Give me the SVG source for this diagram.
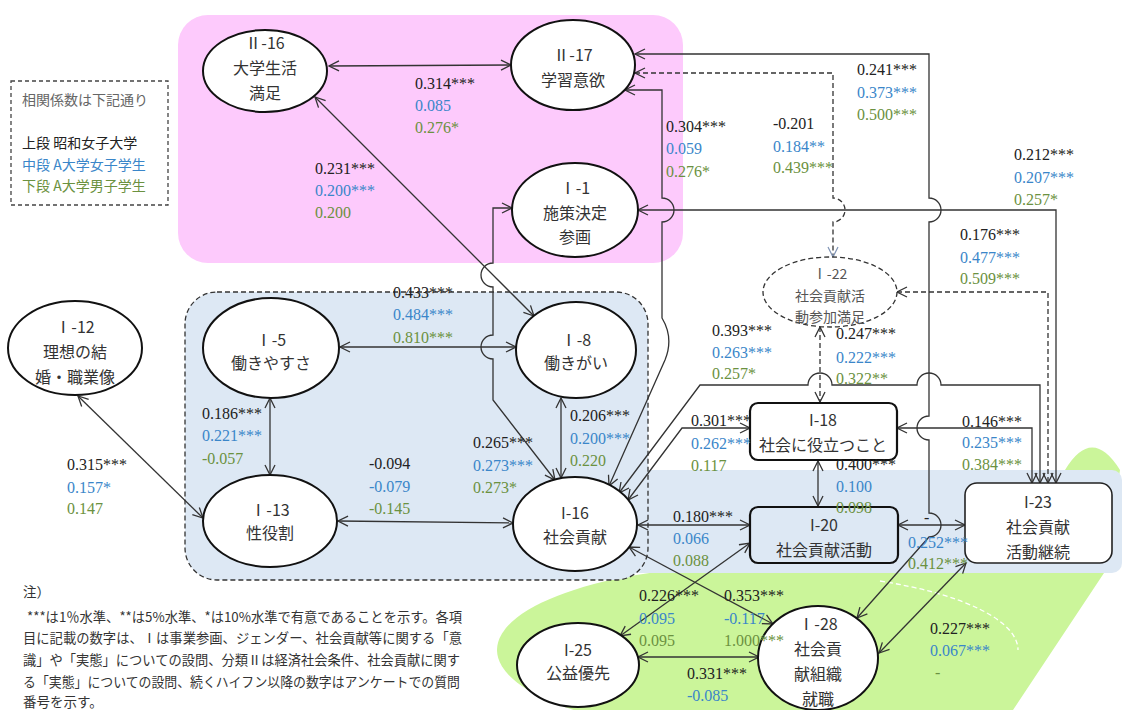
<svg xmlns="http://www.w3.org/2000/svg" width="1127" height="710" viewBox="0 0 1127 710">
<style>
.nt{font-family:"Noto Sans CJK JP","Noto Sans",sans-serif;font-size:16px;fill:#333;text-anchor:middle}
.nts{font-family:"Noto Sans CJK JP","Noto Sans",sans-serif;font-size:14px;fill:#555;text-anchor:middle}
.lg{font-family:"Noto Sans CJK JP","Noto Sans",sans-serif;font-size:14px}
.note{font-family:"Noto Sans CJK JP","Noto Sans",sans-serif;font-size:13.5px;fill:#333}
.lb{font-family:"Liberation Serif","Noto Sans CJK JP",serif;font-size:16px}
.k{fill:#222}.b{fill:#3a86c9}.g{fill:#6b9140}
.cn{fill:none;stroke:#333;stroke-width:1.3}
.ds{stroke-dasharray:5,3}
.el{fill:#fff;stroke:#111;stroke-width:2}
</style>
<defs>
<marker id="a" viewBox="0 0 12 12" refX="11" refY="6" markerWidth="12" markerHeight="12" markerUnits="userSpaceOnUse" orient="auto-start-reverse">
<path d="M1,1 L11,6 L1,11" fill="none" stroke="#333" stroke-width="1.3"/>
</marker>
<marker id="ag" viewBox="0 0 12 12" refX="11" refY="6" markerWidth="12" markerHeight="12" markerUnits="userSpaceOnUse" orient="auto-start-reverse">
<path d="M1,1 L11,6 L1,11" fill="none" stroke="#7f93b5" stroke-width="1.2"/>
</marker>
</defs>

<g id="backgrounds">
<rect x="178" y="15" width="505" height="248" rx="30" fill="#fdcafc"/>
<ellipse cx="760" cy="650" rx="263" ry="85" fill="#cbf59a"/>
<path d="M860,572 L1065,470 Q1092,425 1120,470 L1104,573 L1013,710 L760,710 Z" fill="#cbf59a"/>
<path d="M880,581 A258,78 0 0 1 1018,650" fill="none" stroke="#fff" stroke-width="1.3" stroke-dasharray="5,3"/>
<rect x="630" y="470" width="492" height="103" rx="10" fill="#dde8f4"/>
<rect x="185" y="292" width="463" height="288" rx="32" fill="#dde8f4" stroke="#333" stroke-width="1.3" stroke-dasharray="5,3"/>
</g>

<g id="legend">
<rect x="11" y="81" width="157" height="124" fill="none" stroke="#444" stroke-width="1.3" stroke-dasharray="4,3"/>
<text class="lg" x="22" y="105" fill="#666" font-size="13.5">相関係数は下記通り</text>
<text class="lg" x="22" y="148" fill="#222">上段 昭和女子大学</text>
<text class="lg" x="22" y="170" fill="#3a86c9">中段 A大学女子学生</text>
<text class="lg" x="22" y="191" fill="#6b9140">下段 A大学男子学生</text>
</g>

<g id="note">
<text class="note" x="23" y="597">注）</text>
<text class="note" x="27" y="622" textLength="435" lengthAdjust="spacingAndGlyphs">***は1％水準、**は5%水準、*は10%水準で有意であることを示す。各項</text>
<text class="note" x="23" y="643" textLength="439" lengthAdjust="spacingAndGlyphs">目に記載の数字は、Ⅰは事業参画、ジェンダー、社会貢献等に関する「意</text>
<text class="note" x="23" y="665" textLength="437" lengthAdjust="spacingAndGlyphs">識」や「実態」についての設問、分類Ⅱは経済社会条件、社会貢献に関す</text>
<text class="note" x="23" y="687" textLength="437" lengthAdjust="spacingAndGlyphs">る「実態」についての設問、続くハイフン以降の数字はアンケートでの質問</text>
<text class="note" x="23" y="707">番号を示す。</text>
</g>

<g id="connectors">
<path class="cn" d="M329,66 L511,65" marker-start="url(#a)" marker-end="url(#a)"/>
<path class="cn" d="M315,97 L534,316" marker-start="url(#a)" marker-end="url(#a)"/>
<path class="cn" d="M635,54 L929,54 L929,198 A12,12 0 0 1 929,222 L929,416 A12,12 0 0 0 929,440 L929,513 A12,12 0 0 1 929,537 L857,618" marker-start="url(#a)" marker-end="url(#a)"/>
<path class="cn ds" d="M635,73 L833,73 L833,198 A12,12 0 0 1 833,222 L833,257" marker-start="url(#a)" marker-end="url(#ag)"/>
<path class="cn" d="M638,210 L1056,210 L1056,483" marker-start="url(#a)" marker-end="url(#a)"/>
<path class="cn" d="M512,208 L493,208 L493,263 A12,12 0 0 0 493,287 L493,335 A12,12 0 0 0 493,359 L493,400 L555,480" marker-start="url(#a)" marker-end="url(#a)"/>
<path class="cn" d="M625,90 L662,90 L662,198 A12,12 0 0 1 662,222 L662,318 Q674,338 665,360 L609,486" marker-start="url(#a)" marker-end="url(#a)"/>
<path class="cn" d="M340,347 L516,347" marker-start="url(#a)" marker-end="url(#a)"/>
<path class="cn" d="M270,398 L270,475" marker-start="url(#a)" marker-end="url(#a)"/>
<path class="cn" d="M78,396 L203,518" marker-start="url(#a)" marker-end="url(#a)"/>
<path class="cn" d="M338,521 L513,523" marker-start="url(#a)" marker-end="url(#a)"/>
<path class="cn" d="M561,398 L561,478" marker-start="url(#a)" marker-end="url(#a)"/>
<path class="cn" d="M638,525 L750,525" marker-start="url(#a)" marker-end="url(#a)"/>
<path class="cn" d="M818,461 L818,506" marker-start="url(#a)" marker-end="url(#a)"/>
<path class="cn" d="M898,525 L965,525" marker-start="url(#a)" marker-end="url(#a)"/>
<path class="cn" d="M897,428 L1032,428 L1032,483" marker-start="url(#a)" marker-end="url(#a)"/>
<path class="cn ds" d="M820,327 L820,402" marker-start="url(#a)" marker-end="url(#a)"/>
<path class="cn ds" d="M897,292 L1048,292 L1048,483" marker-start="url(#a)" marker-end="url(#a)"/>
<path class="cn" d="M619,493 L700,385 L808,385 A12,12 0 0 1 832,385 L917,385 A12,12 0 0 1 941,385 L1040,385 L1040,483" marker-start="url(#a)" marker-end="url(#a)"/>
<path class="cn" d="M628,500 L682,428 L750,428" marker-start="url(#a)" marker-end="url(#a)"/>
<path class="cn" d="M629,547 L773,624" marker-start="url(#a)" marker-end="url(#a)"/>
<path class="cn" d="M620,636 L750,543" marker-start="url(#a)" marker-end="url(#a)"/>
<path class="cn" d="M638,657 L759,657" marker-start="url(#a)" marker-end="url(#a)"/>
<path class="cn" d="M966,563 L879,653" marker-start="url(#a)" marker-end="url(#a)"/>
</g>

<g id="n-II16"><ellipse class="el" cx="265" cy="71" rx="62" ry="41"/>
<text class="nt" x="265" y="49">Ⅱ-16</text><text class="nt" x="265" y="74">大学生活</text><text class="nt" x="265" y="99">満足</text></g>
<g id="n-II17"><ellipse class="el" cx="573" cy="65" rx="62" ry="45"/>
<text class="nt" x="573" y="61">Ⅱ-17</text><text class="nt" x="573" y="86">学習意欲</text></g>
<g id="n-I1"><ellipse class="el" cx="575" cy="210" rx="63" ry="47"/>
<text class="nt" x="575" y="194">Ⅰ-1</text><text class="nt" x="575" y="219">施策決定</text><text class="nt" x="575" y="243">参画</text></g>
<g id="n-I12"><ellipse class="el" cx="75" cy="348" rx="67" ry="47"/>
<text class="nt" x="75" y="333">Ⅰ-12</text><text class="nt" x="75" y="358">理想の結</text><text class="nt" x="75" y="383">婚・職業像</text></g>
<g id="n-I5"><ellipse class="el" cx="271" cy="348" rx="68" ry="50"/>
<text class="nt" x="271" y="346">Ⅰ-5</text><text class="nt" x="271" y="369">働きやすさ</text></g>
<g id="n-I8"><ellipse class="el" cx="576" cy="350" rx="60" ry="48"/>
<text class="nt" x="576" y="346">Ⅰ-8</text><text class="nt" x="576" y="369">働きがい</text></g>
<g id="n-I13"><ellipse class="el" cx="270" cy="521" rx="67" ry="46"/>
<text class="nt" x="270" y="516">Ⅰ-13</text><text class="nt" x="270" y="539">性役割</text></g>
<g id="n-I16"><ellipse class="el" cx="575" cy="524" rx="62" ry="47"/>
<text class="nt" x="575" y="519">I-16</text><text class="nt" x="575" y="543">社会貢献</text></g>
<g id="n-I22"><ellipse cx="830" cy="292" rx="67" ry="35" fill="#fff" stroke="#333" stroke-width="1.3" stroke-dasharray="5,3"/>
<text class="nts" x="830" y="279">Ⅰ-22</text><text class="nts" x="830" y="301">社会貢献活</text><text class="nts" x="830" y="322">動参加満足</text></g>
<g id="n-I18"><rect x="750" y="403" width="147" height="57" rx="8" fill="#fff" stroke="#111" stroke-width="2.2"/>
<text class="nt" x="823" y="426">I-18</text><text class="nt" x="823" y="451">社会に役立つこと</text></g>
<g id="n-I20"><rect x="750" y="507" width="148" height="56" rx="8" fill="#dde8f4" stroke="#111" stroke-width="2.2"/>
<text class="nt" x="824" y="531">I-20</text><text class="nt" x="824" y="556">社会貢献活動</text></g>
<g id="n-I23"><rect x="965" y="483" width="147" height="80" rx="12" fill="#fff" stroke="#222" stroke-width="1.6"/>
<text class="nt" x="1038" y="508">I-23</text><text class="nt" x="1038" y="533">社会貢献</text><text class="nt" x="1038" y="558">活動継続</text></g>
<g id="n-I25"><ellipse class="el" cx="578" cy="665" rx="61" ry="42"/>
<text class="nt" x="578" y="656">I-25</text><text class="nt" x="578" y="679">公益優先</text></g>
<g id="n-I28"><ellipse class="el" cx="818" cy="658" rx="60" ry="52"/>
<text class="nt" x="818" y="630">Ⅰ-28</text><text class="nt" x="818" y="655">社会貢</text><text class="nt" x="818" y="680">献組織</text><text class="nt" x="818" y="705">就職</text></g>

<g id="labels" class="lb">
<text class="k" x="415" y="89">0.314***</text><text class="b" x="415" y="111">0.085</text><text class="g" x="415" y="133">0.276*</text>
<text class="k" x="315" y="174">0.231***</text><text class="b" x="315" y="196">0.200***</text><text class="g" x="315" y="218">0.200</text>
<text class="k" x="666" y="132">0.304***</text><text class="b" x="666" y="154">0.059</text><text class="g" x="666" y="177">0.276*</text>
<text class="k" x="773" y="129">-0.201</text><text class="b" x="773" y="152">0.184**</text><text class="g" x="773" y="173">0.439***</text>
<text class="k" x="857" y="75">0.241***</text><text class="b" x="857" y="98">0.373***</text><text class="g" x="857" y="120">0.500***</text>
<text class="k" x="1014" y="160">0.212***</text><text class="b" x="1014" y="183">0.207***</text><text class="g" x="1014" y="205">0.257*</text>
<text class="k" x="960" y="240">0.176***</text><text class="b" x="960" y="263">0.477***</text><text class="g" x="960" y="284">0.509***</text>
<text class="k" x="393" y="298">0.433***</text><text class="b" x="393" y="320">0.484***</text><text class="g" x="393" y="343">0.810***</text>
<text class="k" x="202" y="419">0.186***</text><text class="b" x="202" y="441">0.221***</text><text class="g" x="202" y="464">-0.057</text>
<text class="k" x="67" y="470">0.315***</text><text class="b" x="67" y="493">0.157*</text><text class="g" x="67" y="514">0.147</text>
<text class="k" x="369" y="469">-0.094</text><text class="b" x="369" y="492">-0.079</text><text class="g" x="369" y="514">-0.145</text>
<text class="k" x="473" y="448">0.265***</text><text class="b" x="473" y="471">0.273***</text><text class="g" x="473" y="493">0.273*</text>
<text class="k" x="570" y="421">0.206***</text><text class="b" x="570" y="444">0.200***</text><text class="g" x="570" y="466">0.220</text>
<text class="k" x="712" y="336">0.393***</text><text class="b" x="712" y="358">0.263***</text><text class="g" x="712" y="379">0.257*</text>
<text class="k" x="836" y="339">0.247***</text><text class="b" x="836" y="363">0.222***</text><text class="g" x="836" y="384">0.322**</text>
<text class="k" x="691" y="426">0.301***</text><text class="b" x="691" y="449">0.262***</text><text class="g" x="691" y="471">0.117</text>
<text class="k" x="836" y="470">0.400***</text><text class="b" x="836" y="492">0.100</text><text class="g" x="836" y="513">0.098</text>
<text class="k" x="962" y="427">0.146***</text><text class="b" x="962" y="448">0.235***</text><text class="g" x="962" y="470">0.384***</text>
<text class="k" x="673" y="522">0.180***</text><text class="b" x="673" y="544">0.066</text><text class="g" x="673" y="566">0.088</text>
<text class="k" x="924" y="523" fill="#888">-</text><text class="b" x="908" y="548">0.252***</text><text class="g" x="908" y="569">0.412***</text>
<text class="k" x="639" y="601">0.226***</text><text class="b" x="639" y="624">0.095</text><text class="g" x="639" y="646">0.095</text>
<text class="k" x="724" y="601">0.353***</text><text class="b" x="724" y="624">-0.117</text><text class="g" x="724" y="646">1.000***</text>
<text class="k" x="687" y="679">0.331***</text><text class="b" x="687" y="701">-0.085</text>
<text class="k" x="930" y="634">0.227***</text><text class="b" x="930" y="656">0.067***</text><text class="g" x="935" y="678">-</text>
</g>
</svg>
